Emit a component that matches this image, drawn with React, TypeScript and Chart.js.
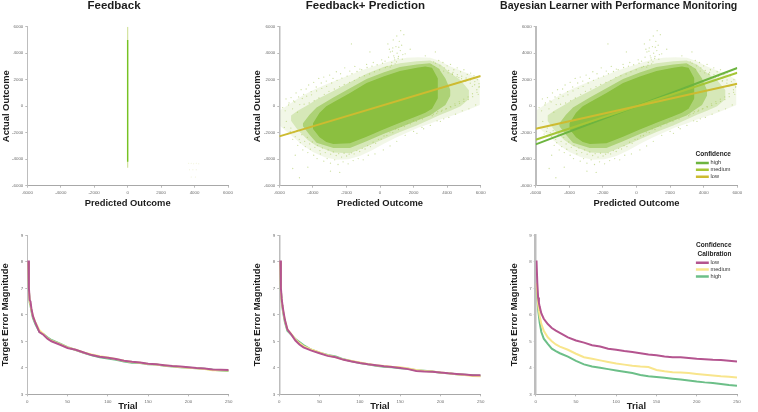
import React, { useEffect, useRef } from "react";
import { Chart, registerables } from "chart.js";

Chart.register(...registerables);

const FONT = "'Liberation Sans', Arial, sans-serif";

// ---------- Upper row data ----------
const axisTicks = [-6000, -4000, -2000, 0, 2000, 4000, 6000];
const lineEnds = [-6000, 6000];
const predictionFit = [-2280, 2280];
const highFit = [-2880, 2880];
const mediumFit = [-2530, 2530];
const lowFit = [-1700, 1700];

const feedbackFaintY = [-4650, 6000];
const feedbackCoreY = [-4200, 5000];
const feedbackZero = [0, 0];
const feedbackStrayX = [3650, 3800, 3950, 4100, 4250, 3700, 3900, 4100, 3800, 4050];
const feedbackStrayY = [-4300, -4300, -4350, -4300, -4350, -4800, -4800, -4800, -5350, -5350];

const coreX = [-4000, -3600, -3200, -2780, -1790, -800, 200, 1190, 2190, 2700, 3100, 3450];
const coreTop = [-1300, -500, 0, 300, 1000, 1750, 2250, 2650, 2900, 3000, 2900, 2100];
const coreBottom = [-1700, -2350, -2700, -2850, -2800, -2300, -1750, -1250, -750, -500, -200, 600];

const midX = [-4600, -4200, -3780, -2780, -1790, -800, 200, 1190, 2190, 2980, 3500, 3900, 4200];
const midTop = [-1300, -650, -100, 650, 1350, 2050, 2550, 2950, 3150, 3250, 2850, 2100, 1200];
const midBottom = [-1500, -2150, -2750, -3150, -3150, -2650, -2100, -1600, -1100, -700, -250, 100, 800];

const haloX = [-5300, -4900, -4300, -3780, -2780, -1790, -800, 200, 1190, 2190, 2980, 3600, 4200, 4800, 5300];
const haloTop = [-700, -350, 100, 500, 1150, 1800, 2450, 2950, 3250, 3400, 3450, 3150, 2500, 1950, 1200];
const haloBottom = [-1100, -1800, -2550, -3000, -3500, -3550, -3050, -2500, -1950, -1450, -1000, -650, -350, 0, 550];

const outerX = [-5950, -5300, -4600, -4000, -3300, -2600, -1900, -1200, -500, 200, 900, 1600, 2300, 3000, 3600, 4200, 4800, 5400, 5950];
const outerTop = [-300, 250, 800, 1200, 1600, 1950, 2300, 2650, 2950, 3250, 3500, 3650, 3700, 3650, 3400, 3000, 2700, 2400, 2000];
const outerBottom = [-1500, -2200, -2950, -3450, -3850, -4050, -4000, -3750, -3350, -2850, -2400, -2000, -1600, -1300, -1000, -750, -500, -200, 100];

const strayX = [
  300, 420, 510, 620, 700, 760, 820, 880, 950, 1020, 1080, 1150, 1210, 1290, 1360, 1420, 560, 680, 790, 900, 1000, 1100, 1230, 1330, 470, 610, 740, 860, 980, 1120,
  -5800, -5600, -5450, -5300, -5150, -5000, -4850, -4700, -4550, -4400, -4250, -4100, -3950, -3800, -3650, -3500, -3350, -3200, -3000, -2800, -2600, -2350, -2100, -1800, -1500, -1200, -800, -400, 100,
  -5700, -5500, -5350, -5200, -5050, -4900, -4750, -4600, -4450, -4300, -4150, -3950, -3750, -3550, -3350, -3150, -2950, -2700, -2500, -2200, -1900, -1600, -1300, -1000, -700, -300, 200, 600, 1000, 1500, 2000, 2500,
  3200, 3500, 3750, 4000, 4200, 4400, 4600, 4800, 5000, 5200, 5400, 5600, 5800, 5900, 3400, 3800, 4100, 4500, 4900, 5300, 5700, 4300, 4700, 5100, 5500, 5850, 3000, 3600, 2600, 2200,
  -5200, -4800, -5050, -4300, -2950, -2400, 2700, 3300, 1800, 1500, -600, -1700,
  -5650, -5420, -5210, -5080, -4920, -4780, -4630, -4520, -4370, -4220, -4080, -3920, -3780, -3640, -3470, -3320, -3180, -3040, -2880, -2720, -2560, -2410, -2270, -2130, -1960, -1820, -1670, -1530, -1370, -1230, -1090, -930, -770, -620, -480, -330, -170, -20, 150, 320,
  -5580, -5310, -5130, -4960, -4810, -4660, -4490, -4330, -4190, -4030, -3880, -3720, -3580, -3430, -3260, -3090, -2940, -2780, -2610, -2460, -2290, -2140, -1990, -1840, -1690, -1540, -1380, -1210, -1060, -890, -740, -570, -410, -260, -90, 70, 240, 410, 590, 760, 930, 1100, 1280, 1450, 1630, 1810, 1990, 2170, 2350, 2530,
  3050, 3180, 3310, 3440, 3570, 3700, 3830, 3960, 4090, 4220, 4350, 4480, 4610, 4740, 4870, 5000, 5130, 5260, 5390, 5520, 5650, 5780, 5910,
  3110, 3240, 3380, 3520, 3660, 3790, 3920, 4060, 4190, 4320, 4460, 4590, 4720, 4860, 4990, 5120, 5250, 5380, 5510, 5640, 5770, 5900,
];
const strayY = [
  3400, 3000, 3700, 4100, 3300, 4400, 3800, 3500, 4500, 4000, 3600, 4900, 4200, 4600, 3900, 5400, 4300, 3100, 5000, 3200, 5300, 3750, 5700, 3550, 4700, 2950, 4150, 3650, 3350, 4450,
  -100, 550, 100, 650, 400, 1000, 700, 1250, 900, 1300, 1600, 1100, 1800, 1450, 2100, 1750, 2200, 1900, 2350, 2100, 2600, 2450, 2900, 2650, 3000, 2800, 3150, 3300, 3500,
  -1600, -2100, -1900, -2500, -2300, -2950, -2750, -3300, -3050, -3500, -3250, -3700, -3950, -3600, -4150, -3950, -4300, -4050, -4400, -4200, -4350, -4100, -3950, -4050, -3700, -3600, -3300, -3000, -2650, -2200, -1900, -1600,
  3350, 3450, 3300, 3050, 3150, 2750, 2900, 2600, 2750, 2400, 2500, 2300, 2000, 1700, -1100, -950, -850, -600, -350, -200, 100, 2450, 2150, 1900, 1500, 900, -1450, -1150, -1700, -2050,
  -4700, -5400, -3700, -4600, -4900, -5000, 3800, 4100, 4300, 3950, 4100, 4700,
  -350, 250, -200, 320, -450, 120, 580, 150, 760, 240, 860, 420, 1150, 620, 1350, 900, 1500, 1120, 1750, 1300, 1950, 1480, 2120, 1640, 2270, 1800, 2450, 1950, 2620, 2180, 2760, 2300, 2920, 2430, 3020, 2600, 3130, 2750, 3240, 2920,
  -1150, -1650, -2000, -1850, -2500, -2150, -2650, -2350, -2850, -2700, -3100, -2950, -3350, -3150, -3500, -3300, -3620, -3450, -3720, -3580, -3840, -3550, -3760, -3620, -3520, -3600, -3350, -3420, -3180, -3230, -2980, -3050, -2720, -2800, -2500, -2480, -2250, -2210, -1950, -2000, -1720, -1760, -1510, -1540, -1290, -1330, -1080, -1130, -900, -960,
  3100, -600, 3250, -420, 3050, -300, 2900, -180, 2700, -60, 2560, 60, 2380, 210, 2260, 360, 2130, 500, 1980, 720, 1860, 1050, 1500,
  -720, 2980, -540, 2780, -380, 2650, -210, 2520, -30, 2400, 180, 2230, 350, 2080, 530, 1920, 700, 1740, 940, 1620, 1240, 1430,
];

// ---------- Lower row data ----------
const trials = [1, 2, 3, 4, 5, 7, 10, 15, 20, 25, 30, 40, 50, 60, 70, 80, 90, 100, 110, 120, 130, 140, 150, 160, 170, 180, 190, 200, 210, 220, 230, 240, 250];
const errorTicks = [3, 4, 5, 6, 7, 8, 9];

const feedbackLow = [8.05, 7.0, 6.55, 6.5, 6.25, 5.95, 5.7, 5.35, 5.25, 5.1, 5.0, 4.88, 4.75, 4.68, 4.58, 4.48, 4.42, 4.38, 4.33, 4.27, 4.23, 4.2, 4.15, 4.13, 4.1, 4.07, 4.05, 4.02, 3.99, 3.97, 3.94, 3.93, 3.92];
const feedbackMedium = [8.0, 6.9, 6.5, 6.4, 6.2, 5.95, 5.72, 5.42, 5.28, 5.12, 5.02, 4.9, 4.77, 4.68, 4.58, 4.5, 4.44, 4.39, 4.33, 4.27, 4.22, 4.19, 4.14, 4.12, 4.09, 4.06, 4.03, 4.0, 3.98, 3.95, 3.91, 3.91, 3.9];
const feedbackHigh = [8.0, 6.9, 6.45, 6.35, 6.15, 5.88, 5.65, 5.36, 5.27, 5.15, 5.05, 4.92, 4.78, 4.67, 4.57, 4.47, 4.4, 4.35, 4.3, 4.24, 4.19, 4.18, 4.13, 4.12, 4.08, 4.05, 4.02, 4.0, 3.98, 3.96, 3.93, 3.9, 3.88];

const predictionLow = [8.05, 7.0, 6.6, 6.35, 6.15, 5.8, 5.45, 5.25, 5.03, 4.88, 4.77, 4.65, 4.55, 4.45, 4.4, 4.3, 4.24, 4.18, 4.13, 4.1, 4.06, 4.03, 3.99, 3.95, 3.88, 3.86, 3.85, 3.82, 3.79, 3.77, 3.75, 3.72, 3.72];
const predictionMedium = [8.0, 6.9, 6.5, 6.3, 6.1, 5.78, 5.45, 5.27, 5.07, 4.93, 4.82, 4.68, 4.58, 4.47, 4.4, 4.31, 4.26, 4.2, 4.14, 4.1, 4.07, 4.04, 4.02, 3.97, 3.92, 3.88, 3.86, 3.82, 3.79, 3.76, 3.73, 3.69, 3.68];
const predictionHigh = [8.0, 6.9, 6.5, 6.25, 6.05, 5.72, 5.4, 5.25, 5.08, 4.97, 4.86, 4.68, 4.57, 4.48, 4.43, 4.32, 4.25, 4.18, 4.13, 4.08, 4.04, 4.02, 3.98, 3.96, 3.91, 3.89, 3.86, 3.81, 3.79, 3.76, 3.74, 3.72, 3.7];

const bayesLow = [8.05, 7.2, 6.65, 6.45, 6.3, 6.05, 5.85, 5.65, 5.5, 5.4, 5.32, 5.15, 5.03, 4.95, 4.85, 4.8, 4.72, 4.68, 4.63, 4.6, 4.55, 4.5, 4.47, 4.43, 4.4, 4.4, 4.37, 4.34, 4.32, 4.3, 4.29, 4.27, 4.24];
const bayesMedium = [7.2, 6.8, 6.4, 6.15, 5.95, 5.65, 5.4, 5.15, 5.0, 4.88, 4.8, 4.68, 4.53, 4.4, 4.34, 4.28, 4.22, 4.16, 4.12, 4.08, 4.05, 4.03, 3.92, 3.87, 3.83, 3.82, 3.8, 3.77, 3.74, 3.71, 3.68, 3.66, 3.63];
const bayesHigh = [7.0, 6.7, 6.2, 5.95, 5.7, 5.35, 5.1, 4.9, 4.72, 4.63, 4.55, 4.42, 4.26, 4.13, 4.05, 4.0, 3.95, 3.9, 3.85, 3.8, 3.73, 3.68, 3.65, 3.62, 3.59, 3.56, 3.52, 3.48, 3.45, 3.43, 3.39, 3.35, 3.32];

// ---------- Labels ----------
const titles = ["Feedback", "Feedback+ Prediction", "Bayesian Learner with Performance Monitoring"];
const confidenceLabels = ["high", "medium", "low"];
const calibrationLabels = ["low", "medium", "high"];

const GREEN_DENSE = "#8bbf40";
const pair = (xs: number[], ys: number[]) => xs.map((x, i) => ({ x, y: ys[i] }));

const fitLine = (label: string, ys: number[], color: string, order: number) => ({
  label,
  data: pair(lineEnds, ys),
  showLine: true,
  borderColor: color,
  backgroundColor: color,
  borderWidth: 2,
  pointRadius: 0,
  order,
});

const band = (xs: number[], top: number[], bottom: number[], color: string, order: number) => [
  { data: pair(xs, top), showLine: true, borderWidth: 0, borderColor: "transparent", backgroundColor: color, pointRadius: 0, fill: "+1", order },
  { data: pair(xs, bottom), showLine: true, borderWidth: 0, borderColor: "transparent", backgroundColor: color, pointRadius: 0, fill: false, order: order + 1 },
];

const cloud = () => [
  { data: pair(strayX, strayY), pointRadius: 0.65, pointBorderWidth: 0, pointBackgroundColor: "rgba(165,198,85,0.55)", order: 8 },
  ...band(coreX, coreTop, coreBottom, GREEN_DENSE, 10),
  ...band(midX, midTop, midBottom, "rgba(139,191,64,0.55)", 12),
  ...band(haloX, haloTop, haloBottom, "rgba(150,195,75,0.3)", 14),
  ...band(outerX, outerTop, outerBottom, "rgba(175,205,105,0.16)", 16),
];

const errLine = (label: string, ys: number[], color: string) => ({
  label,
  data: pair(trials, ys),
  showLine: true,
  borderColor: color,
  backgroundColor: color,
  borderWidth: 2,
  pointRadius: 0,
});

const LOW_C = "#b4548f";
const MED_C = "#f8e58c";
const HIGH_C = "#6cbf88";

type Panel = {
  left: number; top: number; width: number; height: number;
  axisLeft: number; padTop: number; padRight: number; xHeight: number;
  title?: string; xTitle: string; yTitle: string; titleXPad: number; titleYPad: number;
  xMin: number; xMax: number; xStep: number; yMin: number; yMax: number; yStep: number;
  borderW: number; datasets: any[];
  legend?: { left: number; top: number; title: string | string[]; titlePos: string; titlePad: number; lh: number };
};

const panels: Panel[] = [
  {
    left: 0, top: -2, width: 250, height: 214, axisLeft: 27.3, padTop: 0, padRight: 22, xHeight: 26.3,
    title: titles[0], xTitle: "Predicted Outcome", yTitle: "Actual Outcome", titleXPad: 3.6, titleYPad: 2,
    xMin: axisTicks[0], xMax: axisTicks[6], xStep: 2000, yMin: axisTicks[0], yMax: axisTicks[6], yStep: 2000, borderW: 1,
    datasets: [
      { data: pair(feedbackZero, feedbackCoreY), showLine: true, borderColor: "#76c224", borderWidth: 1.4, pointRadius: 0, order: 1 },
      { data: pair(feedbackZero, feedbackFaintY), showLine: true, borderColor: "#d3e3a0", borderWidth: 1.2, pointRadius: 0, order: 2 },
      { data: pair(feedbackStrayX, feedbackStrayY), pointRadius: 0.5, pointBorderWidth: 0, pointBackgroundColor: "rgba(220,225,160,0.5)", order: 3 },
    ],
  },
  {
    left: 250, top: -2, width: 260, height: 214, axisLeft: 29.3, padTop: 0, padRight: 29.3, xHeight: 26.3,
    title: titles[1], xTitle: "Predicted Outcome", yTitle: "Actual Outcome", titleXPad: 3.6, titleYPad: 3,
    xMin: axisTicks[0], xMax: axisTicks[6], xStep: 2000, yMin: axisTicks[0], yMax: axisTicks[6], yStep: 2000, borderW: 1.5,
    datasets: [fitLine("Fit", predictionFit, "#cdbb30", 0), ...cloud()],
  },
  {
    left: 500, top: -2, width: 254, height: 214, axisLeft: 35.7, padTop: 0, padRight: 16.7, xHeight: 26.3,
    title: titles[2], xTitle: "Predicted Outcome", yTitle: "Actual Outcome", titleXPad: 3.6, titleYPad: 9.3,
    xMin: axisTicks[0], xMax: axisTicks[6], xStep: 2000, yMin: axisTicks[0], yMax: axisTicks[6], yStep: 2000, borderW: 2,
    datasets: [
      fitLine(confidenceLabels[0], highFit, "#6cb43f", 2),
      fitLine(confidenceLabels[1], mediumFit, "#a5c636", 1),
      fitLine(confidenceLabels[2], lowFit, "#cdbb30", 0),
      ...cloud(),
    ],
    legend: { left: 195.5, top: 152.75, title: "Confidence", titlePos: "start", titlePad: 1.6, lh: 1 },
  },
  {
    left: 0, top: 220, width: 250, height: 192, axisLeft: 27.3, padTop: 15.3, padRight: 21.3, xHeight: 17.7,
    xTitle: "Trial", yTitle: "Target Error Magnitude", titleXPad: 0.4, titleYPad: 1.2,
    xMin: 0, xMax: 250, xStep: 50, yMin: errorTicks[0], yMax: errorTicks[6], yStep: 1, borderW: 1,
    datasets: [errLine("low", feedbackLow, LOW_C), errLine("medium", feedbackMedium, MED_C), errLine("high", feedbackHigh, HIGH_C)],
  },
  {
    left: 250, top: 220, width: 260, height: 192, axisLeft: 29.3, padTop: 15.3, padRight: 29.3, xHeight: 17.7,
    xTitle: "Trial", yTitle: "Target Error Magnitude", titleXPad: 0.4, titleYPad: 3.2,
    xMin: 0, xMax: 250, xStep: 50, yMin: errorTicks[0], yMax: errorTicks[6], yStep: 1, borderW: 1.5,
    datasets: [errLine("low", predictionLow, LOW_C), errLine("medium", predictionMedium, MED_C), errLine("high", predictionHigh, HIGH_C)],
  },
  {
    left: 500, top: 220, width: 254, height: 192, axisLeft: 35.7, padTop: 15.3, padRight: 17, xHeight: 17.7,
    xTitle: "Trial", yTitle: "Target Error Magnitude", titleXPad: 0.4, titleYPad: 9.3,
    xMin: 0, xMax: 250, xStep: 50, yMin: errorTicks[0], yMax: errorTicks[6], yStep: 1, borderW: 2.5,
    datasets: [
      errLine(calibrationLabels[0], bayesLow, LOW_C),
      errLine(calibrationLabels[1], bayesMedium, MED_C),
      errLine(calibrationLabels[2], bayesHigh, HIGH_C),
    ],
    legend: { left: 195.5, top: 21.75, title: ["Confidence", "Calibration"], titlePos: "end", titlePad: 8.1, lh: 1.34 },
  },
];

function makeChart(canvas: HTMLCanvasElement, p: Panel) {
  const legendMover = {
    id: "legendMover",
    afterLayout(chart: any) {
      const lg = chart.legend;
      if (!lg || !p.legend) return;
      const h = lg.height;
      lg.left = p.legend.left;
      lg.width = 36;
      lg.right = lg.left + 36;
      lg.top = p.legend.top;
      lg.bottom = lg.top + h;
    },
  };
  const tickOpts = {
    font: { family: FONT, size: 4.4 },
    color: "#6d6d6d",
    autoSkip: false,
    maxRotation: 0,
    minRotation: 0,
    callback: (v: any) => String(v),
  };
  const grid = { drawOnChartArea: false, drawTicks: true, tickLength: 2, tickWidth: 0.5, tickColor: "#777" };
  const axisTitleFont = { family: FONT, size: 9.4, weight: "bold" as const, lineHeight: 1 };
  return new Chart(canvas, {
    type: "scatter",
    data: { datasets: p.datasets },
    plugins: [legendMover],
    options: {
      animation: false,
      responsive: false,
      maintainAspectRatio: false,
      layout: { padding: { left: 0, top: p.padTop, right: p.padRight, bottom: 0 } },
      plugins: {
        tooltip: { enabled: false },
        title: p.title
          ? { display: true, text: p.title, color: "#1c1c1c", font: { family: FONT, size: 11.5, weight: "bold" }, padding: { top: 0.6, bottom: 14.3 } }
          : { display: false },
        legend: p.legend
          ? {
              display: true,
              position: "chartArea",
              align: "start",
              title: {
                display: true,
                text: p.legend.title,
                position: p.legend.titlePos,
                color: "#1c1c1c",
                font: { family: FONT, size: 6.5, weight: "bold", lineHeight: p.legend.lh },
                padding: { top: 0, bottom: p.legend.titlePad },
              },
              labels: {
                boxWidth: 11,
                boxHeight: 0.5,
                padding: 1.3,
                color: "#333",
                font: { family: FONT, size: 5.6, lineHeight: 1 },
                filter: (item: any) => !!item.text,
                sort: (a: any, b: any) => a.datasetIndex - b.datasetIndex,
              },
            }
          : { display: false },
      },
      scales: {
        x: {
          type: "linear",
          min: p.xMin,
          max: p.xMax,
          border: { color: "#a8a8a8", width: 1 },
          grid,
          ticks: { ...tickOpts, stepSize: p.xStep, padding: 2.5 },
          title: { display: true, text: p.xTitle, color: "#1c1c1c", font: axisTitleFont, padding: { top: 0, bottom: p.titleXPad } },
          afterFit: (s: any) => { s.height = p.xHeight; },
        },
        y: {
          type: "linear",
          min: p.yMin,
          max: p.yMax,
          border: { color: "#bdbdbd", width: p.borderW },
          grid,
          ticks: { ...tickOpts, stepSize: p.yStep, padding: 2 },
          title: { display: true, text: p.yTitle, color: "#1c1c1c", font: axisTitleFont, padding: { top: p.titleYPad, bottom: 0 } },
          afterFit: (s: any) => { s.width = p.axisLeft; },
        },
      },
    } as any,
  });
}

function PanelChart({ p }: { p: Panel }) {
  const ref = useRef<HTMLCanvasElement>(null);
  useEffect(() => {
    const c = makeChart(ref.current!, p);
    return () => c.destroy();
  }, [p]);
  return (
    <canvas
      ref={ref}
      width={p.width}
      height={p.height}
      style={{ position: "absolute", left: p.left, top: p.top, width: p.width, height: p.height }}
    />
  );
}

export default function App() {
  return (
    <div style={{ position: "fixed", left: 0, top: 0, width: 758, height: 412, background: "#fff", overflow: "hidden" }}>
      {panels.map((p, i) => (
        <PanelChart key={i} p={p} />
      ))}
    </div>
  );
}
